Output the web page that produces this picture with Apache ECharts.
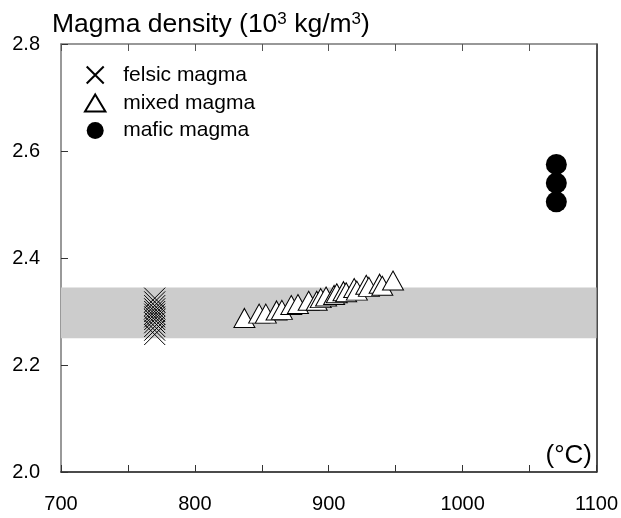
<!DOCTYPE html>
<html>
<head>
<meta charset="utf-8">
<script src="https://cdn.jsdelivr.net/npm/echarts@6/dist/echarts.min.js"></script>
<style>
  html, body { margin: 0; padding: 0; background: #fff; }
  #main { width: 621px; height: 518px; }
</style>
</head>
<body>
<div id="main"></div>
<script>
// temperatures (°C) and densities (10^3 kg/m^3)
var felsicT = [770, 770, 770, 770, 770, 770, 770, 770, 770, 770, 770, 770];
var felsicD = [2.325, 2.318, 2.311, 2.305, 2.300, 2.295, 2.290, 2.285, 2.279, 2.272, 2.265, 2.257];

var mixedT = [837, 848, 853, 861, 865, 872, 877, 885, 891, 894, 898, 904, 906, 911, 913, 919, 921, 928, 930, 938, 940, 948];
var mixedD = [2.288, 2.296, 2.296, 2.302, 2.303, 2.312, 2.314, 2.320, 2.320, 2.325, 2.328, 2.331, 2.334, 2.338, 2.336, 2.344, 2.339, 2.350, 2.346, 2.352, 2.348, 2.358];

var maficT = [1070, 1070, 1070];
var maficD = [2.575, 2.540, 2.505];

// grey band of density
var bandD = [2.25, 2.345];

var xTicks = [700, 800, 900, 1000, 1100];
var yTicks = [2.0, 2.2, 2.4, 2.6, 2.8];

function pairs(xs, ys) {
    return xs.map(function (x, i) { return [x, ys[i]]; });
}

var font = 'Liberation Sans, Arial, sans-serif';
var myChart = echarts.init(document.getElementById('main'));

myChart.setOption({
    animation: false,
    grid: { left: 61, right: 24, top: 44, bottom: 46 },
    graphic: [
        {
            type: 'text', left: 52, top: 11,
            style: {
                text: 'Magma density (10{s|3} kg/m{s|3})',
                font: '26.5px ' + font, fill: '#000',
                rich: { s: { fontSize: 17, fontFamily: font, verticalAlign: 'top', fill: '#000' } }
            }
        },
        {
            type: 'text', x: 592, y: 456,
            style: { text: '(\u00B0C)', font: '26px ' + font, fill: '#000', align: 'right', verticalAlign: 'middle' }
        }
    ],
    legend: {
        orient: 'vertical', left: 79, top: 59,
        itemWidth: 46, itemHeight: 17, itemGap: 6.5,
        data: ['felsic magma', 'mixed magma', 'mafic magma'],
        textStyle: { fontSize: 21, fontFamily: font, color: '#000' }
    },
    xAxis: [
        {
            type: 'value', min: xTicks[0], max: xTicks[xTicks.length - 1], interval: 50,
            axisLine: { lineStyle: { color: '#111', width: 1.5 } },
            axisTick: { inside: true, length: 7, lineStyle: { color: '#333' } },
            splitLine: { show: false },
            axisLabel: {
                margin: 22, fontSize: 20, fontFamily: font, color: '#000',
                formatter: function (v) { return xTicks.indexOf(v) >= 0 ? String(v) : ''; }
            }
        },
        {
            type: 'value', position: 'top', min: xTicks[0], max: xTicks[xTicks.length - 1], interval: 50,
            axisLine: { lineStyle: { color: '#777', width: 1.5 } },
            axisTick: { inside: true, length: 7, lineStyle: { color: '#555' } },
            splitLine: { show: false },
            axisLabel: { show: false }
        }
    ],
    yAxis: [
        {
            type: 'value', min: yTicks[0], max: yTicks[yTicks.length - 1], interval: 0.2,
            axisLine: { show: true, lineStyle: { color: '#777', width: 1.5 } },
            axisTick: { show: true, inside: true, length: 7, lineStyle: { color: '#333' } },
            splitLine: { show: false },
            axisLabel: {
                margin: 21, fontSize: 20, fontFamily: font, color: '#000',
                formatter: function (v) { return v.toFixed(1); }
            }
        },
        {
            type: 'value', position: 'right', min: yTicks[0], max: yTicks[yTicks.length - 1], interval: 0.2,
            axisLine: { show: true, lineStyle: { color: '#111', width: 1.5 } },
            axisTick: { show: false },
            splitLine: { show: false },
            axisLabel: { show: false }
        }
    ],
    series: [
        {
            name: 'band', type: 'scatter', data: [], silent: true,
            markArea: {
                silent: true,
                itemStyle: { color: '#cccccc' },
                data: [[{ yAxis: bandD[0] }, { yAxis: bandD[1] }]]
            }
        },
        {
            name: 'felsic magma', type: 'scatter',
            symbol: 'path://M0,0L10,10M10,0L0,10', symbolSize: 21,
            itemStyle: { color: 'none', borderColor: '#000', borderWidth: 1, opacity: 1 },
            data: pairs(felsicT, felsicD)
        },
        {
            name: 'mixed magma', type: 'scatter',
            symbol: 'path://M6,0L12,10L0,10Z', symbolSize: [21, 19],
            itemStyle: { color: '#fff', borderColor: '#000', borderWidth: 1, opacity: 1 },
            data: pairs(mixedT, mixedD)
        },
        {
            name: 'mafic magma', type: 'scatter',
            symbol: 'circle', symbolSize: 21,
            itemStyle: { color: '#000', opacity: 1 },
            data: pairs(maficT, maficD)
        }
    ]
});
</script>
</body>
</html>
